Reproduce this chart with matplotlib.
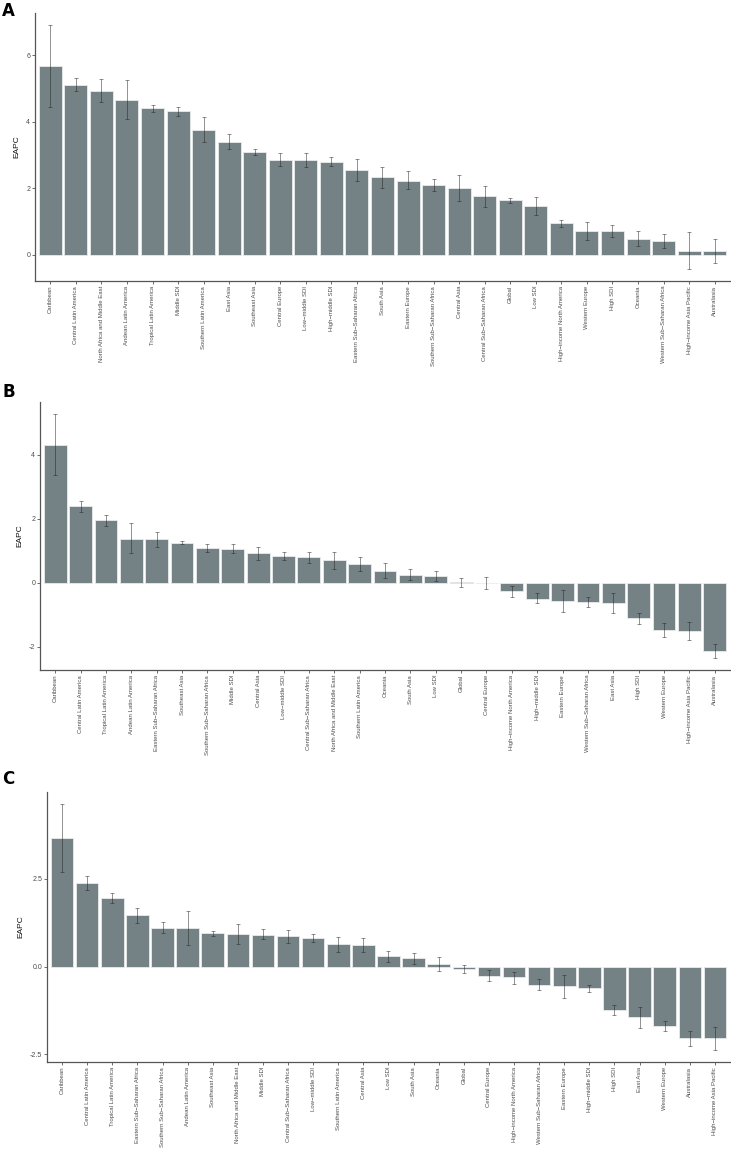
import matplotlib
matplotlib.use("Agg")
import matplotlib.pyplot as plt
import numpy as np

plt.rcParams['font.family'] = ['Liberation Sans', 'DejaVu Sans']

# ---------------- Panel A ----------------
a_labels = ["Caribbean", "Central Latin America", "North Africa and Middle East",
            "Andean Latin America", "Tropical Latin America", "Middle SDI",
            "Southern Latin America", "East Asia", "Southeast Asia", "Central Europe",
            "Low\u2212middle SDI", "High\u2212middle SDI", "Eastern Sub\u2212Saharan Africa",
            "South Asia", "Eastern Europe", "Southern Sub\u2212Saharan Africa",
            "Central Asia", "Central Sub\u2212Saharan Africa", "Global", "Low SDI",
            "High\u2212income North America", "Western Europe", "High SDI", "Oceania",
            "Western Sub\u2212Saharan Africa", "High\u2212income Asia Pacific", "Australasia"]
a_val = [5.68, 5.12, 4.93, 4.66, 4.41, 4.32, 3.76, 3.39, 3.08, 2.86, 2.85, 2.80, 2.54,
         2.33, 2.23, 2.09, 2.00, 1.75, 1.63, 1.46, 0.94, 0.72, 0.71, 0.48, 0.40, 0.12, 0.11]
a_lo = [4.46, 4.94, 4.59, 4.08, 4.29, 4.16, 3.39, 3.17, 3.00, 2.66, 2.65, 2.66, 2.23,
        2.00, 1.96, 1.90, 1.61, 1.44, 1.56, 1.20, 0.82, 0.45, 0.53, 0.25, 0.19, -0.43, -0.26]
a_hi = [6.91, 5.32, 5.28, 5.26, 4.50, 4.46, 4.13, 3.62, 3.17, 3.06, 3.05, 2.93, 2.87,
        2.64, 2.52, 2.28, 2.40, 2.06, 1.71, 1.73, 1.05, 0.99, 0.89, 0.70, 0.61, 0.68, 0.47]
a_ticks = [0, 2, 4, 6]

# ---------------- Panel B ----------------
b_labels = ["Caribbean", "Central Latin America", "Tropical Latin America",
            "Andean Latin America", "Eastern Sub\u2212Saharan Africa", "Southeast Asia",
            "Southern Sub\u2212Saharan Africa", "Middle SDI", "Central Asia",
            "Low\u2212middle SDI", "Central Sub\u2212Saharan Africa",
            "North Africa and Middle East", "Southern Latin America", "Oceania",
            "South Asia", "Low SDI", "Global", "Central Europe",
            "High\u2212income North America", "High\u2212middle SDI", "Eastern Europe",
            "Western Sub\u2212Saharan Africa", "East Asia", "High SDI", "Western Europe",
            "High\u2212income Asia Pacific", "Australasia"]
b_val = [4.31, 2.39, 1.95, 1.37, 1.37, 1.24, 1.08, 1.05, 0.91, 0.82, 0.79, 0.69, 0.59,
         0.375, 0.25, 0.22, 0.01, -0.01, -0.26, -0.50, -0.57, -0.60, -0.65, -1.11,
         -1.48, -1.50, -2.14]
b_lo = [3.36, 2.20, 1.78, 0.91, 1.12, 1.19, 0.97, 0.91, 0.71, 0.70, 0.60, 0.41, 0.375,
        0.15, 0.08, 0.04, -0.15, -0.19, -0.44, -0.65, -0.93, -0.77, -0.96, -1.30,
        -1.71, -1.78, -2.35]
b_hi = [5.26, 2.56, 2.11, 1.85, 1.59, 1.29, 1.20, 1.20, 1.10, 0.94, 0.97, 0.96, 0.80,
        0.60, 0.42, 0.375, 0.15, 0.17, -0.10, -0.34, -0.22, -0.46, -0.33, -0.94,
        -1.26, -1.22, -1.93]
b_ticks = [-2, 0, 2, 4]

# ---------------- Panel C ----------------
c_labels = ["Caribbean", "Central Latin America", "Tropical Latin America",
            "Eastern Sub\u2212Saharan Africa", "Southern Sub\u2212Saharan Africa",
            "Andean Latin America", "Southeast Asia", "North Africa and Middle East",
            "Middle SDI", "Central Sub\u2212Saharan Africa", "Low\u2212middle SDI",
            "Southern Latin America", "Central Asia", "Low SDI", "South Asia", "Oceania",
            "Global", "Central Europe", "High\u2212income North America",
            "Western Sub\u2212Saharan Africa", "Eastern Europe", "High\u2212middle SDI",
            "High SDI", "East Asia", "Western Europe", "Australasia",
            "High\u2212income Asia Pacific"]
c_val = [3.65, 2.38, 1.95, 1.47, 1.11, 1.10, 0.94, 0.92, 0.91, 0.86, 0.80, 0.63, 0.62,
         0.29, 0.23, 0.07, -0.07, -0.26, -0.31, -0.515, -0.56, -0.62, -1.24, -1.44,
         -1.69, -2.05, -2.05]
c_lo = [2.69, 2.19, 1.80, 1.24, 0.94, 0.61, 0.87, 0.64, 0.78, 0.68, 0.69, 0.41, 0.42,
        0.12, 0.07, -0.13, -0.19, -0.42, -0.50, -0.68, -0.90, -0.73, -1.38, -1.74,
        -1.84, -2.26, -2.37]
c_hi = [4.62, 2.57, 2.08, 1.68, 1.28, 1.58, 1.02, 1.20, 1.06, 1.05, 0.93, 0.85, 0.81,
        0.45, 0.39, 0.27, 0.05, -0.095, -0.15, -0.35, -0.24, -0.515, -1.10, -1.15,
        -1.55, -1.84, -1.73]
c_ticks = [-2.5, 0.0, 2.5]

panels = [
    ("A", a_labels, a_val, a_lo, a_hi, a_ticks, "{:g}", [35, 730, 13, 281], (2, 16)),
    ("B", b_labels, b_val, b_lo, b_hi, b_ticks, "{:g}", [40, 730, 402, 670], (2, 397)),
    ("C", c_labels, c_val, c_lo, c_hi, c_ticks, "{:.1f}", [47, 730, 792, 1062], (2, 784)),
]

W, H = 731, 1151
fig = plt.figure(figsize=(W / 100, H / 100), dpi=100)
bar_color = "#748286"
axis_color = "#555555"
text_color = "#4d4d4d"

for letter, labels, val, lo, hi, ticks, fmt, box, lpos in panels:
    l, r, t, b = box
    ax = fig.add_axes([l / W, 1 - b / H, (r - l) / W, (b - t) / H])
    x = np.arange(len(labels))
    val = np.array(val)
    lo = np.array(lo)
    hi = np.array(hi)
    ax.bar(x, val, width=0.9, color=bar_color, edgecolor="#e8eced", linewidth=0.6, zorder=2)
    ax.errorbar(x, val, yerr=[val - lo, hi - val], fmt="none", ecolor="#222222",
                alpha=0.5, elinewidth=0.7, capsize=1.2, capthick=0.7, zorder=3)
    ymin, ymax = lo.min(), hi.max()
    pad = 0.05 * (ymax - ymin)
    ax.set_ylim(ymin - pad, ymax + pad)
    ax.set_xlim(-0.6, len(labels) - 1 + 0.6)
    ax.set_xticks(x)
    ax.set_xticklabels(labels, rotation=90, fontsize=4.35, color=text_color)
    ax.set_yticks(ticks)
    ax.set_yticklabels([fmt.format(v) for v in ticks], fontsize=5, color=text_color)
    ax.set_ylabel("EAPC", fontsize=6, color="#111111", labelpad=4)
    for s in ["top", "right"]:
        ax.spines[s].set_visible(False)
    for s in ["left", "bottom"]:
        ax.spines[s].set_color(axis_color)
        ax.spines[s].set_linewidth(0.9)
    ax.tick_params(axis="both", length=2, width=0.6, color=axis_color, pad=1.5)
    fig.text(lpos[0] / W, 1 - lpos[1] / H, letter, fontsize=12, fontweight="bold",
             color="black", ha="left", va="baseline", family="DejaVu Sans")

fig.savefig("out.png", dpi=100)
